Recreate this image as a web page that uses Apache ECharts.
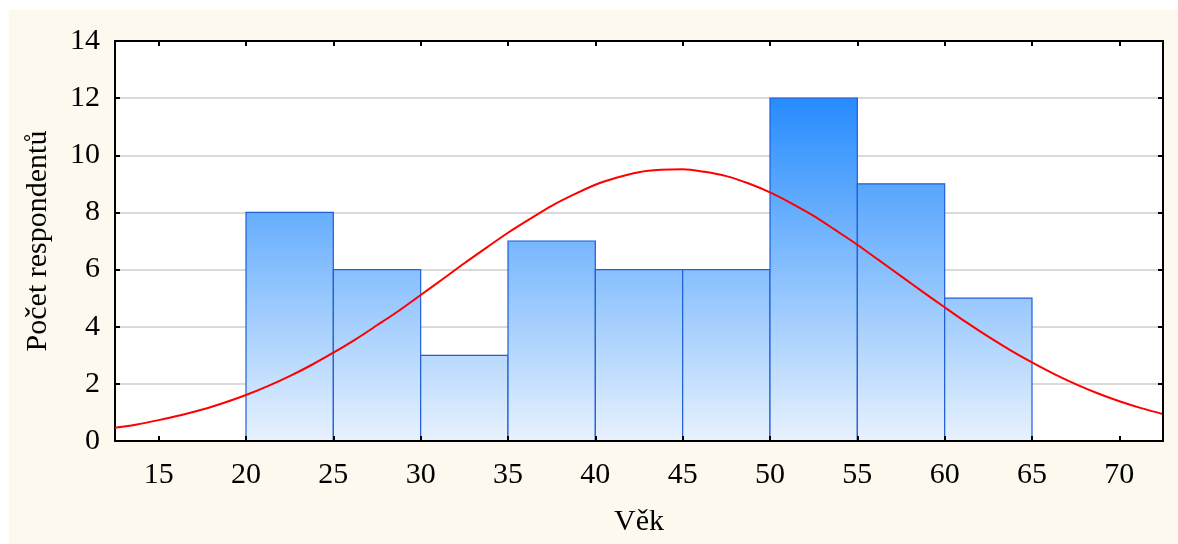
<!DOCTYPE html>
<html>
<head>
<meta charset="utf-8">
<script src="https://cdn.jsdelivr.net/npm/echarts@6/dist/echarts.min.js"></script>
<style>
  html, body { margin: 0; padding: 0; background: #ffffff; }
  #chart { width: 1178px; height: 544px; }
</style>
</head>
<body>
<div id="chart"></div>
<script>
// Age histogram (5-year bins) with fitted normal curve
const binStarts = [20, 25, 30, 35, 40, 45, 50, 55, 60];
const binWidth = 5;
const counts = [8, 6, 3, 7, 6, 6, 12, 9, 5];

// Expected-normal curve, sampled every 1.25 years
const curveX = [12.5, 13.75, 15, 16.25, 17.5, 18.75, 20, 21.25, 22.5, 23.75, 25, 26.25,
                27.5, 28.75, 30, 31.25, 32.5, 33.75, 35, 36.25, 37.5, 38.75, 40, 41.25,
                42.5, 43.75, 45, 46.25, 47.5, 48.75, 50, 51.25, 52.5, 53.75, 55, 56.25,
                57.5, 58.75, 60, 61.25, 62.5, 63.75, 65, 66.25, 67.5, 68.75, 70, 71.25, 72.5];
const curveY = [0.46, 0.58, 0.73, 0.90, 1.10, 1.34, 1.61, 1.92, 2.27, 2.66, 3.09, 3.55,
                4.05, 4.56, 5.11, 5.66, 6.22, 6.76, 7.29, 7.77, 8.23, 8.62, 8.97, 9.22,
                9.41, 9.49, 9.51, 9.42, 9.27, 9.02, 8.70, 8.31, 7.88, 7.38, 6.87, 6.32,
                5.77, 5.22, 4.68, 4.15, 3.65, 3.18, 2.75, 2.35, 1.99, 1.67, 1.39, 1.15, 0.94];

const xTicks = [15, 20, 25, 30, 35, 40, 45, 50, 55, 60, 65, 70];

const FONT = "'Liberation Serif', 'Times New Roman', serif";
const FONT_SIZE = 30;

const histData = binStarts.map((s, i) => [s, s + binWidth, counts[i]]);
const curveData = curveX.map((x, i) => [x, curveY[i]]);

const chart = echarts.init(document.getElementById('chart'), null, { renderer: 'canvas' });

const frameLine = { show: true, onZero: false, lineStyle: { color: '#000', width: 2 } };
const tickStyle = { color: '#000', width: 2 };

chart.setOption({
  animation: false,
  backgroundColor: 'transparent',
  graphic: [{
    type: 'rect', z: -10, silent: true,
    shape: { x: 9, y: 10, width: 1178 - 9, height: 544 - 10 },
    style: { fill: '#fdf9ee' }
  }],
  grid: {
    left: 115, right: 15, top: 41, bottom: 103,
    show: true, backgroundColor: '#ffffff', borderWidth: 0
  },
  xAxis: [
    {
      type: 'value', min: 12.5, max: 72.5, position: 'bottom', z: 10,
      axisLine: frameLine,
      axisTick: { show: true, inside: true, length: 5, customValues: xTicks, lineStyle: tickStyle },
      splitLine: { show: false },
      name: 'Věk', nameLocation: 'middle', nameGap: 66,
      nameTextStyle: { fontFamily: FONT, fontSize: FONT_SIZE, color: '#000' },
      axisLabel: { show: true, customValues: xTicks, margin: 19, fontFamily: FONT, fontSize: FONT_SIZE, color: '#000' }
    },
    {
      type: 'value', min: 12.5, max: 72.5, position: 'top', z: 10,
      axisLine: frameLine,
      axisTick: { show: true, inside: true, length: 5, customValues: xTicks, lineStyle: tickStyle },
      axisLabel: { show: false },
      splitLine: { show: false }
    }
  ],
  yAxis: [
    {
      // gridlines sit beneath the bars
      type: 'value', min: 0, max: 14, interval: 2, position: 'left', z: 0,
      axisLine: frameLine,
      axisTick: { show: true, inside: true, length: 5, lineStyle: tickStyle },
      name: 'Počet respondentů', nameLocation: 'middle', nameGap: 62, nameRotate: 90,
      nameTextStyle: { fontFamily: FONT, fontSize: FONT_SIZE, color: '#000' },
      axisLabel: { show: true, margin: 15, fontFamily: FONT, fontSize: FONT_SIZE, color: '#000' },
      splitLine: { show: true, lineStyle: { color: '#dadada', width: 2 } }
    },
    {
      type: 'value', min: 0, max: 14, interval: 2, position: 'right', z: 10,
      axisLine: frameLine,
      axisTick: { show: true, inside: true, length: 5, lineStyle: tickStyle },
      axisLabel: { show: false },
      splitLine: { show: false }
    }
  ],
  series: [
    {
      type: 'custom',
      xAxisIndex: 0, yAxisIndex: 0,
      data: histData,
      z: 2,
      renderItem: function (params, api) {
        const x0 = api.value(0), x1 = api.value(1), v = api.value(2);
        const pTop = api.coord([x0, v]);
        const pBot = api.coord([x1, 0]);
        const g0 = api.coord([x0, 12])[1];
        const g1 = api.coord([x0, 0])[1];
        const fill = new echarts.graphic.LinearGradient(0, g0, 0, g1, [
          { offset: 0, color: '#268cfd' },
          { offset: 1, color: '#e8f2fe' }
        ], true);
        return {
          type: 'rect',
          shape: { x: pTop[0], y: pTop[1], width: pBot[0] - pTop[0], height: pBot[1] - pTop[1] },
          style: { fill: fill, stroke: '#1f5fd8', lineWidth: 1.2 }
        };
      }
    },
    {
      type: 'line',
      xAxisIndex: 0, yAxisIndex: 0,
      data: curveData,
      smooth: 0.3,
      showSymbol: false,
      z: 5,
      lineStyle: { color: '#ff0000', width: 2 }
    }
  ]
});
</script>
</body>
</html>
